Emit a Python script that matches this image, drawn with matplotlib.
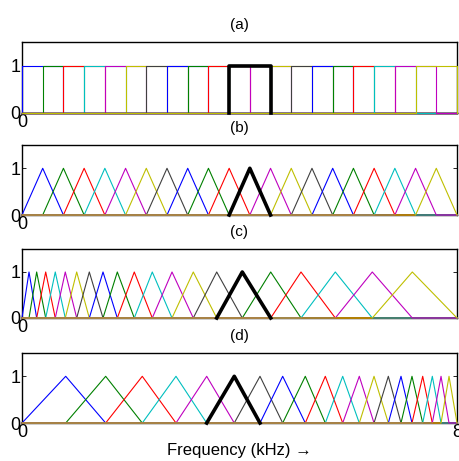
import numpy as np
import matplotlib
matplotlib.use('Agg')
import matplotlib.pyplot as plt

plt.rcParams['font.family'] = ['Liberation Sans', 'DejaVu Sans']

# filter band edges (kHz); filter i spans edges[i]..edges[i+2]
edges_lin = [0.0, 0.381, 0.762, 1.143, 1.524, 1.905, 2.286, 2.667, 3.048,
             3.429, 3.810, 4.190, 4.571, 4.952, 5.333, 5.714, 6.095, 6.476,
             6.857, 7.238, 7.619, 8.0]
edges_inv = [0.0, 0.129, 0.270, 0.436, 0.612, 0.796, 1.006, 1.238, 1.490,
             1.753, 2.065, 2.396, 2.759, 3.150, 3.581, 4.051, 4.574, 5.131,
             5.762, 6.442, 7.178, 8.0]
edges_mel = [0.0, 0.804, 1.539, 2.212, 2.832, 3.397, 3.904, 4.377, 4.794,
             5.210, 5.578, 5.898, 6.203, 6.474, 6.737, 6.970, 7.172, 7.369,
             7.546, 7.706, 7.853, 8.0]

# index of the highlighted (black) filter in each panel
hilite = [10, 10, 14, 5]

titles = ['(a)', '(b)', '(c)', '(d)']
xlabel = 'Frequency (kHz) \u2192'

colors = ['#0000ff', '#008000', '#ff0000', '#00bfbf', '#bf00bf',
          '#bfbf00', '#404040']

fmax = 8.0

# axes boxes in figure fractions (left, bottom, width, height)
boxes = [(0.0478, 0.7549, 0.9457, 0.154),
         (0.0478, 0.5336, 0.9457, 0.152),
         (0.0478, 0.3102, 0.9457, 0.1497),
         (0.0478, 0.0824, 0.9457, 0.152)]

fig = plt.figure(figsize=(4.60, 4.61), dpi=100)


def draw_bank(ax, edges, hl, rect=False):
    n = len(edges) - 2
    for i in range(n):
        lo, c, hi = edges[i], edges[i + 1], edges[i + 2]
        if i == hl:
            # only the non-zero part is drawn in black, baseline stays coloured
            if rect:
                x, y = [lo, lo, hi, hi], [0, 1, 1, 0]
            else:
                x, y = [lo, c, hi], [0, 1, 0]
            ax.plot(x, y, color='k', lw=2.6, zorder=4, clip_on=False)
            continue
        if rect:
            x = [0, lo, lo, hi, hi, fmax]
            y = [0, 0, 1, 1, 0, 0]
        else:
            x = [0, lo, c, hi, fmax]
            y = [0, 0, 1, 0, 0]
        ax.plot(x, y, color=colors[i % 7], lw=0.8, zorder=3, clip_on=False)


banks = [(edges_lin, True), (edges_lin, False), (edges_inv, False),
         (edges_mel, False)]

for k, (box, (edges, rect)) in enumerate(zip(boxes, banks)):
    ax = fig.add_axes(box)
    draw_bank(ax, edges, hilite[k], rect=rect)
    ax.set_xlim(0, fmax)
    ax.set_ylim(0, 1.5)
    ax.set_yticks([0, 1])
    ax.set_xticks([0, 8])
    if k < 3:
        ax.set_xticklabels(['0', ''])
    else:
        ax.set_xticklabels(['0', '8'])
        ax.set_xlabel(xlabel, fontsize=12, labelpad=1)
    ax.tick_params(direction='in', length=3, width=0.6, top=True,
                   right=True, labelsize=13, pad=1)
    ax.tick_params(axis='y', pad=1)
    for s in ax.spines.values():
        s.set_linewidth(1.0)
    ax.set_title(titles[k], fontsize=11, pad=9)

fig.savefig('out.png', dpi=100)
